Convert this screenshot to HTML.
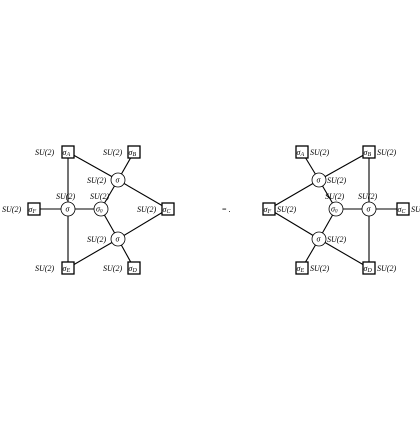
<!DOCTYPE html>
<html><head><meta charset="utf-8"><style>
body{margin:0;background:#fff}
svg text{font-family:"Liberation Serif",serif;font-size:8px;fill:#000}
</style></head><body>
<svg width="420" height="420" viewBox="0 0 420 420">
<rect width="420" height="420" fill="#fff"/>
<g id="g" stroke="#000" stroke-width="1" fill="#fff"></g>
<text x="222" y="212">= .</text>
</svg>
<script>
const boxesL=[["A",68,152],["B",134,152],["F",34,209],["C",168,209],["E",68,268],["D",134,268]];
const circL=[["l",68,209,"σ"],["0",101,209,"σ0"],["t",118,180,"σ"],["b",118,239,"σ"]];
const edgesL=[["A","l"],["E","l"],["F","l"],["l","0"],["A","t"],["B","t"],["t","0"],["t","C"],["C","b"],["b","0"],["b","D"],["b","E"]];
const labL=[[35,155],[103,155],[2,212],[137,212],[35,271],[103,271],[56,199],[90,199],[87,183],[87,242]];
const boxesR=[["A",302,152],["B",369,152],["F",269,209],["C",403,209],["E",302,268],["D",369,268]];
const circR=[["t",319,180,"σ"],["0",336,209,"σ0"],["r",369,209,"σ"],["b",319,239,"σ"]];
const edgesR=[["A","t"],["t","B"],["t","F"],["t","0"],["0","r"],["r","B"],["r","C"],["r","D"],["0","b"],["b","F"],["b","E"],["b","D"]];
const labR=[[310,155],[377,155],[277,212],[411,212],[310,271],[377,271],[327,183],[327,242],[325,199],[358,199]];
const NS="http://www.w3.org/2000/svg";const g=document.getElementById("g");
function mk(t,a){const e=document.createElementNS(NS,t);for(const k in a)e.setAttribute(k,a[k]);return e;}
function draw(boxes,circs,edges,labs,side){
 const pos={};boxes.forEach(b=>pos[b[0]]=[b[1],b[2]]);circs.forEach(c=>pos[c[0]]=[c[1],c[2]]);
 edges.forEach(e=>{const a=pos[e[0]],b=pos[e[1]];const l=mk("line",{x1:a[0],y1:a[1],x2:b[0],y2:b[1],"stroke-width":"1.1"});
  
  g.appendChild(l);});
 boxes.forEach(b=>{const r=mk("rect",{x:b[1]-6,y:b[2]-6,width:12,height:12,"stroke-width":"1.3"});
  
  g.appendChild(r);
  const t=mk("text",{x:b[1]-5.5,y:b[2]+3,"font-style":"italic",stroke:"none","font-size":"9"});t.innerHTML="σ<tspan font-size='6' dy='1'>"+b[0]+"</tspan>";
  
  g.appendChild(t);});
 circs.forEach(c=>{const r=mk("circle",{cx:c[1],cy:c[2],r:7,"stroke-width":"0.8"});
  
  g.appendChild(r);
  const t=mk("text",{x:c[1]-(c[3]=="σ0"?5:2.5),y:c[2]+2.5,"font-style":"italic",stroke:"none","font-size":"7"});
  t.innerHTML=c[3]=="σ0"?"σ<tspan font-size='5' dy='1'>0</tspan>":"σ";
  
  g.appendChild(t);});
 labs.forEach(p=>{const t=mk("text",{x:p[0],y:p[1],"font-style":"italic",stroke:"none"});t.textContent="SU(2)";
  
  g.appendChild(t);});
}
draw(boxesL,circL,edgesL,labL,"left");
draw(boxesR,circR,edgesR,labR,"right");
</script>
</body></html>
